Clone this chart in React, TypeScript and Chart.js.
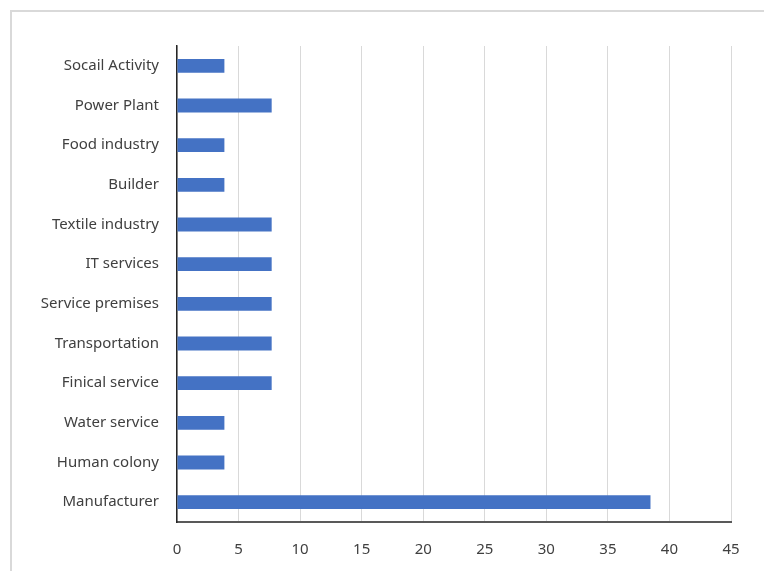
import React, { useEffect, useRef } from "react";
import { Chart, registerables } from "chart.js";

Chart.register(...registerables);

const categories = [
  "Socail Activity",
  "Power Plant",
  "Food industry",
  "Builder",
  "Textile industry",
  "IT services",
  "Service premises",
  "Transportation",
  "Finical service",
  "Water service",
  "Human colony",
  "Manufacturer",
];

const values = [3.85, 7.69, 3.85, 3.85, 7.69, 7.69, 7.69, 7.69, 7.69, 3.85, 3.85, 38.46];

const xMin = 0;
const xMax = 45;
const xStep = 5;

export default function App() {
  const ref = useRef<HTMLCanvasElement | null>(null);

  useEffect(() => {
    if (!ref.current) return;
    const font = { family: "'Noto Sans', sans-serif", size: 15 };
    const chart = new Chart(ref.current, {
      type: "bar",
      data: {
        labels: categories,
        datasets: [
          {
            data: values,
            backgroundColor: "#4472C4",
            borderWidth: 0,
            categoryPercentage: 1,
            barPercentage: 0.35,
          },
        ],
      },
      options: {
        indexAxis: "y",
        animation: false,
        responsive: false,
        maintainAspectRatio: false,
        layout: { padding: { top: 46, right: 33, bottom: 0, left: 0 } },
        plugins: {
          legend: { display: false },
          tooltip: { enabled: false },
        },
        scales: {
          x: {
            min: xMin,
            max: xMax,
            ticks: { stepSize: xStep, color: "#404040", font, padding: 19 },
            grid: { color: "#d9d9d9", lineWidth: 1, drawTicks: false },
            border: { display: true, color: "#595959", width: 2 },
            afterFit: (scale: any) => {
              scale.height = 49;
            },
          },
          y: {
            ticks: { color: "#404040", font, padding: 18, autoSkip: false },
            grid: { display: false, drawTicks: false },
            border: { display: true, color: "#262626", width: 1.5 },
            afterFit: (scale: any) => {
              scale.width = 177;
            },
          },
        },
      },
    });
    return () => chart.destroy();
  }, []);

  return (
    <div
      style={{
        position: "fixed",
        left: 0,
        top: 0,
        width: 764,
        height: 571,
        background: "#ffffff",
        overflow: "hidden",
      }}
    >
      <div
        style={{
          position: "absolute",
          left: 10,
          top: 10,
          width: 800,
          height: 600,
          borderLeft: "2px solid #d9d9d9",
          borderTop: "2px solid #d9d9d9",
        }}
      />
      <canvas
        ref={ref}
        width={764}
        height={571}
        style={{ position: "absolute", left: 0, top: 0, width: 764, height: 571 }}
      />
    </div>
  );
}
